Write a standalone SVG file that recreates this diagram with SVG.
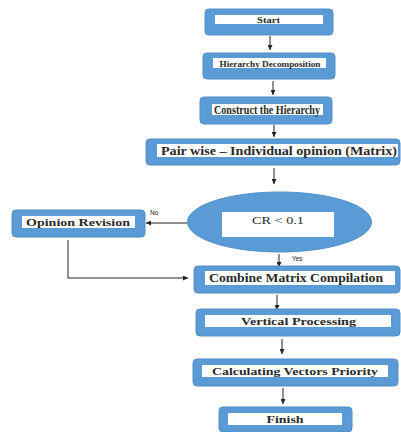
<svg xmlns="http://www.w3.org/2000/svg" width="401" height="432" viewBox="0 0 401 432">
<style>
.box{fill:#5b9bd5;stroke:#4f8fca;stroke-width:1}
.in{fill:#ffffff}
.t{font-family:"Liberation Serif","Times New Roman",serif;font-weight:bold;fill:#2a2a2a;text-anchor:middle}
.lbl{font-family:"Liberation Sans",Arial,sans-serif;font-size:6.5px;fill:#222}
.c{stroke:#222;stroke-width:1;fill:none}
</style>
<defs>
<marker id="ah" viewBox="0 0 6 6" refX="6" refY="3" markerWidth="5" markerHeight="5" orient="auto" markerUnits="userSpaceOnUse">
<path d="M0,0 L6,3 L0,6 z" fill="#222"/>
</marker>
</defs>
<rect width="401" height="432" fill="#ffffff"/>
<g id="connectors">
<line class="c" x1="270" y1="36" x2="270" y2="50" marker-end="url(#ah)"/>
<line class="c" x1="273" y1="81" x2="273" y2="95" marker-end="url(#ah)"/>
<line class="c" x1="274" y1="125" x2="274" y2="137" marker-end="url(#ah)"/>
<line class="c" x1="274" y1="168" x2="274" y2="184" marker-end="url(#ah)"/>
<line class="c" x1="187" y1="223" x2="146" y2="223" marker-end="url(#ah)"/>
<line class="c" x1="279" y1="254" x2="279" y2="267" marker-end="url(#ah)"/>
<polyline class="c" points="68,240 68,278 188,278" stroke="#555" marker-end="url(#ah)"/>
<line class="c" x1="277" y1="295" x2="277" y2="310" marker-end="url(#ah)"/>
<line class="c" x1="282" y1="339" x2="282" y2="354" marker-end="url(#ah)"/>
<line class="c" x1="283" y1="388" x2="283" y2="404" marker-end="url(#ah)"/>
<text class="lbl" x="150" y="215">No</text>
<text class="lbl" x="292" y="261">Yes</text>
</g>
<g id="start">
<rect class="box" x="205" y="9" width="128" height="26" rx="4"/>
<rect class="in" x="215" y="15" width="108" height="9"/>
<text class="t" x="268.5" y="22.5" font-size="9" textLength="23" lengthAdjust="spacingAndGlyphs">Start</text>
</g>
<g id="decomp">
<rect class="box" x="203" y="53" width="132" height="26" rx="4"/>
<rect class="in" x="213" y="58" width="113" height="10"/>
<text class="t" x="270" y="66.5" font-size="9" textLength="101" lengthAdjust="spacingAndGlyphs">Hierarchy Decomposition</text>
</g>
<g id="construct">
<rect class="box" x="200" y="97" width="132" height="27" rx="4"/>
<rect class="in" x="212" y="104" width="111" height="11"/>
<text class="t" x="267" y="113.5" font-size="11.5" textLength="106" lengthAdjust="spacingAndGlyphs">Construct the Hierarchy</text>
</g>
<g id="pairwise">
<rect class="box" x="146" y="139" width="254" height="26" rx="4"/>
<rect class="in" x="157" y="144" width="241" height="13"/>
<text class="t" x="279" y="154.5" font-size="12" textLength="236" lengthAdjust="spacingAndGlyphs">Pair wise – Individual opinion (Matrix)</text>
</g>
<g id="cr">
<ellipse cx="279.5" cy="222" rx="92" ry="30" fill="#5b9bd5" stroke="#4f8fca"/>
<rect class="in" x="222" y="212" width="112" height="25"/>
<text class="t" x="278" y="223.5" font-size="11" style="font-weight:normal" textLength="52" lengthAdjust="spacingAndGlyphs">CR &lt; 0.1</text>
</g>
<g id="revision">
<rect class="box" x="12" y="210" width="133" height="27" rx="4"/>
<rect class="in" x="22" y="216" width="113" height="12"/>
<text class="t" x="78" y="225.5" font-size="11" textLength="104" lengthAdjust="spacingAndGlyphs">Opinion Revision</text>
</g>
<g id="combine">
<rect class="box" x="194" y="266" width="206" height="27" rx="4"/>
<rect class="in" x="205" y="271" width="190" height="14"/>
<text class="t" x="296" y="282" font-size="11.5" textLength="174" lengthAdjust="spacingAndGlyphs">Combine Matrix Compilation</text>
</g>
<g id="vertical">
<rect class="box" x="196" y="309" width="204" height="27" rx="4"/>
<rect class="in" x="205" y="315" width="186" height="12"/>
<text class="t" x="298.5" y="325" font-size="11" textLength="115" lengthAdjust="spacingAndGlyphs">Vertical Processing</text>
</g>
<g id="vectors">
<rect class="box" x="193" y="359" width="205" height="27" rx="4"/>
<rect class="in" x="202" y="365" width="186" height="12"/>
<text class="t" x="295" y="374.5" font-size="11" textLength="166" lengthAdjust="spacingAndGlyphs">Calculating Vectors Priority</text>
</g>
<g id="finish">
<rect class="box" x="219" y="407" width="133" height="25" rx="4"/>
<rect class="in" x="228" y="413" width="114" height="12"/>
<text class="t" x="285" y="422.5" font-size="10" textLength="37" lengthAdjust="spacingAndGlyphs">Finish</text>
</g>
</svg>
